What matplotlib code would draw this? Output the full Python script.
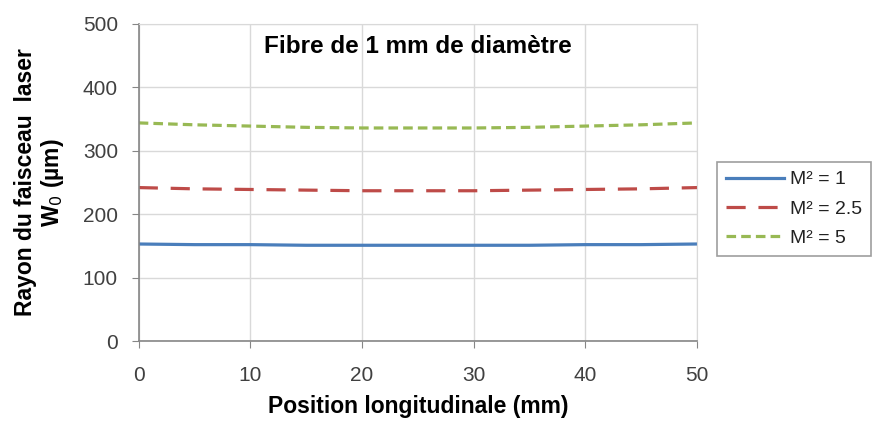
import matplotlib
matplotlib.use("Agg")
import matplotlib.pyplot as plt

plt.rcParams['font.family'] = ['Liberation Sans', 'DejaVu Sans']

# Position longitudinale (mm)
position = [0, 5, 10, 15, 20, 25, 30, 35, 40, 45, 50]
# Rayon du faisceau W0 (µm) pour chaque M²
w_m1 = [153, 152, 152, 151, 151, 151, 151, 151, 152, 152, 153]
w_m25 = [242, 240, 239, 238, 237, 237, 237, 238, 239, 240, 242]
w_m5 = [344, 341, 339, 337, 336, 336, 336, 337, 339, 341, 344]
labels = ["M² = 1", "M² = 2.5", "M² = 5"]

fig = plt.figure(figsize=(8.78, 4.21), dpi=100)
ax = fig.add_axes([0.158, 0.19, 0.636, 0.753])

ax.plot(position, w_m1, color='#4A7EBB', lw=2.3, label=labels[0])
ax.plot(position, w_m25, color='#BE4B48', lw=2.3, dashes=(6, 4), label=labels[1])
ax.plot(position, w_m5, color='#98B954', lw=2.3, dashes=(3, 1.6), label=labels[2])

ax.set_xlim(0, 50)
ax.set_ylim(0, 500)
ax.set_xticks(range(0, 51, 10))
ax.set_yticks(range(0, 501, 100))
ax.grid(True, color='#D9D9D9', lw=1)
ax.set_axisbelow(True)

for side in ['top', 'right']:
    ax.spines[side].set_color('#D9D9D9')
for side in ['left', 'bottom']:
    ax.spines[side].set_color('#868686')
    ax.spines[side].set_linewidth(1.2)

ax.tick_params(direction='out', length=5, color='#868686', labelsize=15,
               labelcolor='#404040')
ax.tick_params(axis='x', pad=13)
ax.tick_params(axis='y', pad=10)

ax.set_xlabel("Position longitudinale (mm)", fontsize=16.5, fontweight='bold', labelpad=7)
ax.set_ylabel("Rayon du faisceau  laser\nW$_0$ (µm)", fontsize=16.5, fontweight='bold',
              labelpad=12, linespacing=1.1)
ax.text(0.5, 0.93, "Fibre de 1 mm de diamètre", transform=ax.transAxes,
        ha='center', va='center', fontsize=17.5, fontweight='bold')

leg = fig.legend(loc='upper left', bbox_to_anchor=(0.817, 0.615), fontsize=14,
                 frameon=True, fancybox=False, handlelength=3.0, borderpad=0.45,
                 labelspacing=0.6, handletextpad=0.3, borderaxespad=0)
leg.get_frame().set_edgecolor('#868686')
leg.get_frame().set_linewidth(1.2)
for t in leg.get_texts():
    t.set_color('#222222')

fig.savefig("out.png", dpi=100)
